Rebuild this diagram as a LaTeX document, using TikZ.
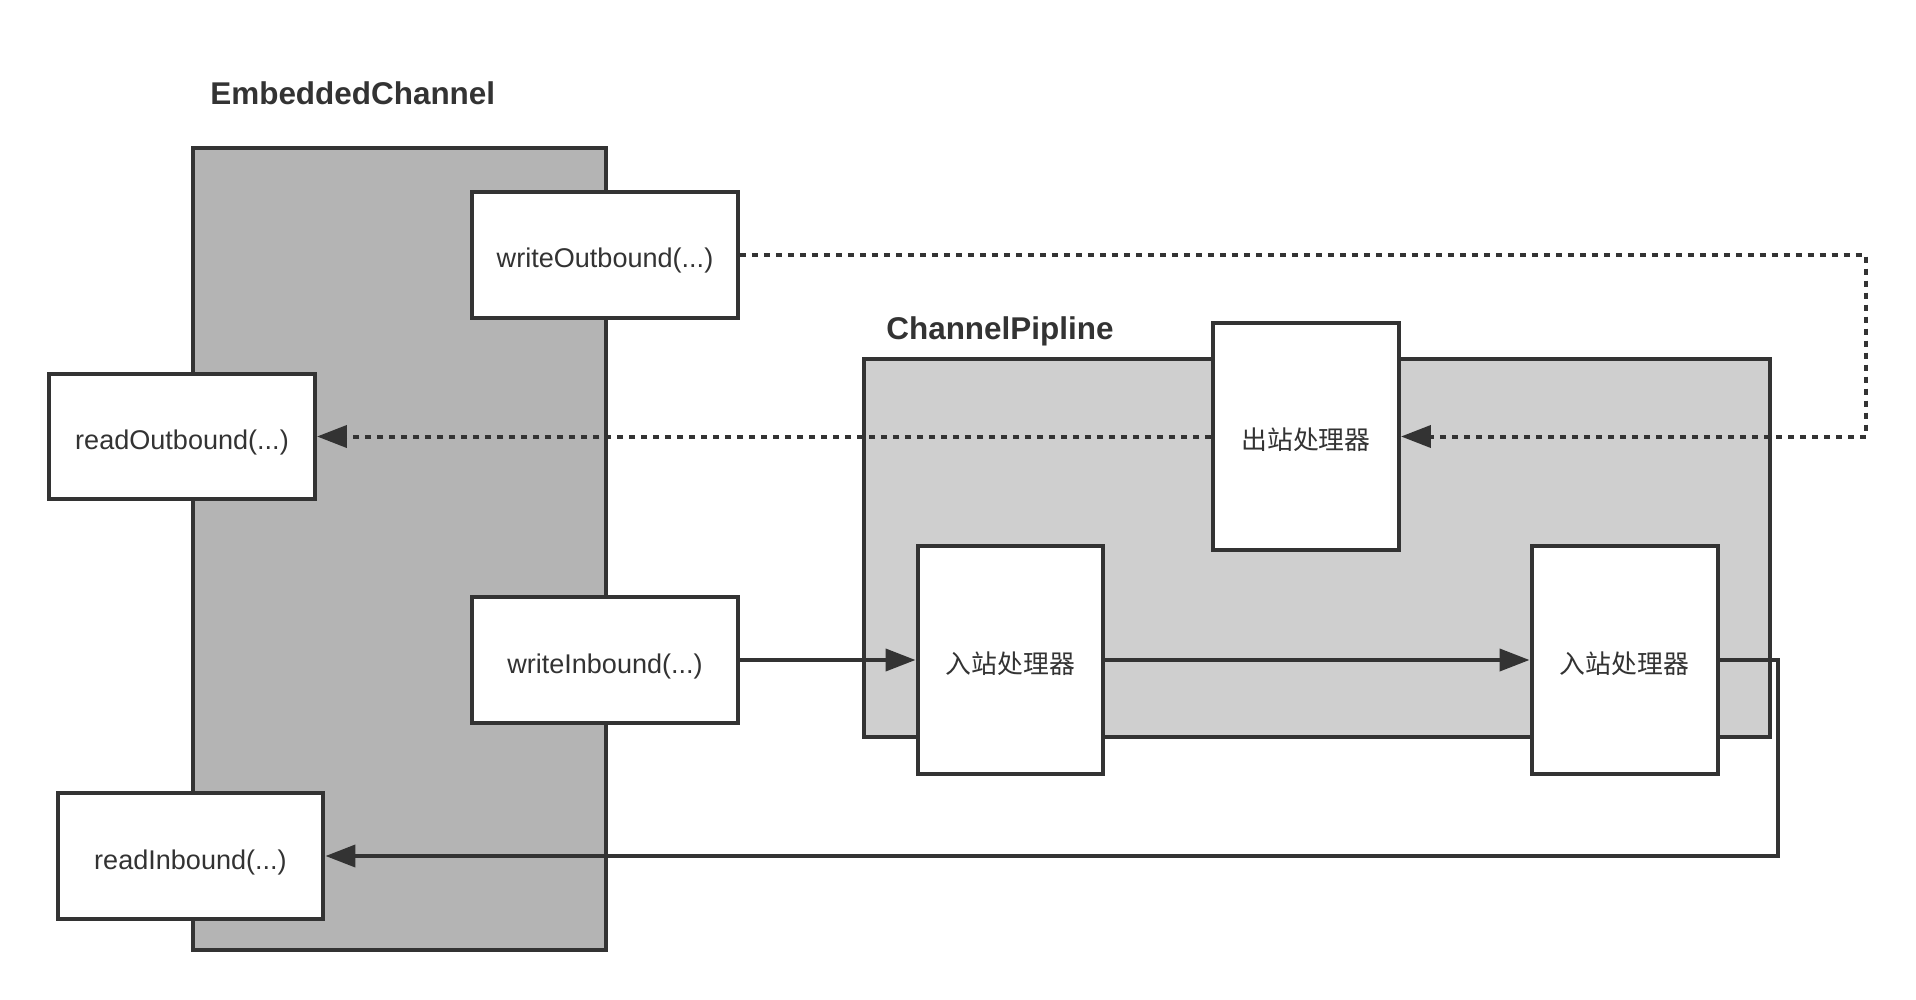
\documentclass[tikz,border=0pt]{standalone}
\usepackage{fontspec}
\setmainfont{Liberation Sans}
\newfontfamily\cjk{Noto Sans CJK SC}
\usetikzlibrary{arrows.meta}
\definecolor{ink}{HTML}{333333}
\definecolor{embfill}{HTML}{B4B4B4}
\definecolor{pipefill}{HTML}{CFCFCF}
\tikzset{
  box/.style={draw=ink, line width=0.08cm, fill=white, text=ink, inner sep=0pt,
    font=\fontsize{15.4}{18}\selectfont},
  method/.style={box, minimum width=5.32cm, minimum height=2.52cm,
    text height=0.72cm, text depth=0.2cm},
  handler/.style={box, minimum width=3.72cm, minimum height=4.56cm,
    text height=0.7cm, text depth=0.17cm, font=\cjk\fontsize{14.7}{17}\selectfont},
  title/.style={anchor=west, text=ink, inner sep=0pt, font=\bfseries\fontsize{17.9}{21}\selectfont},
  flow/.style={draw=ink, line width=0.08cm, -{Triangle[length=0.6cm,width=0.44cm]}},
  outflow/.style={flow, dash pattern=on 0.12cm off 0.12cm},
}

\begin{document}
\begin{tikzpicture}[x=0.02cm, y=-0.02cm]
			%%%%% START %%%%%
			\useasboundingbox (0,0) rectangle (1916,1000);
			
			% EmbeddedChannel and the pipeline
			\node[box, fill=embfill, minimum width=8.26cm, minimum height=16.04cm] (emb) at (399.5,549) {};
			\node[title] (embtitle) at (210,93) {EmbeddedChannel};
			
			\node[box, fill=pipefill, minimum width=18.12cm, minimum height=7.56cm] (pipe) at (1317,548) {};
			\node[title] (pipetitle) at (886,331) {ChannelPipline};
			
			% handlers
			\node[handler] (outh) at (1306,436.5) {出站处理器};
			\node[handler] (inh1) at (1010.5,660) {入站处理器};
			\node[handler] (inh2) at (1624.5,660) {入站处理器};
			
			% methods
			\node[method] (wout) at (605,255) {writeOutbound(...)};
			\node[method] (rout) at (182,436.5) {readOutbound(...)};
			\node[method] (win) at (605,660) {writeInbound(...)};
			\node[method] (rin) at (190.5,856) {readInbound(...)};
			
			\coordinate (outturn) at (1866,436.5);
			\coordinate (inturn) at (1778,856);
			
			% outbound
			\draw[outflow] (wout.east) -| (outturn) -- (outh.east);
			\draw[outflow] (outh.west) -- (rout.east);
			
			% inbound
			\draw[flow] (win.east) -- (inh1.west);
			\draw[flow] (inh1.east) -- (inh2.west);
			\draw[flow] (inh2.east) -| (inturn) -- (rin.east);
			
			%%%%% END %%%%%
\end{tikzpicture}
\end{document}
